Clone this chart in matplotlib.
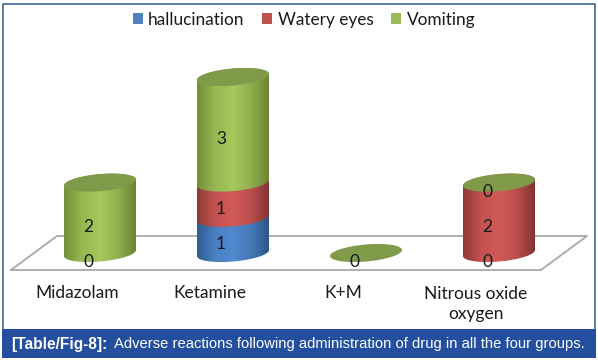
import numpy as np
import matplotlib
matplotlib.use("Agg")
import matplotlib.pyplot as plt
from matplotlib.patches import Polygon, Patch, Rectangle
from matplotlib.lines import Line2D
from matplotlib.colors import LinearSegmentedColormap

categories = ["Midazolam", "Ketamine", "K+M", "Nitrous oxide\noxygen"]
series_names = ["hallucination", "Watery eyes", "Vomiting"]
hallucination = [0, 1, 0, 0]
watery_eyes = [0, 1, 0, 2]
vomiting = [2, 3, 0, 0]
series_values = [hallucination, watery_eyes, vomiting]
legend_colors = ["#4f81bd", "#c0504d", "#9bbb59"]
ramps = [["#2f5c92", "#4a80c2", "#5089cf", "#4679b6", "#2c5588"],
         ["#8f3b39", "#c35250", "#d25a58", "#bb4f4d", "#823432"],
         ["#728f38", "#96b852", "#a5c95c", "#90b04e", "#6b8535"]]
top_color = "#7f9a48"
caption_bold = "[Table/Fig-8]:"
caption_rest = "Adverse reactions following administration of drug in all the four groups."

W, H = 598, 362
X0, DX = 100, 133      # pixel of first category, pixels per category
Y0, DY = 253, 35.2     # pixel of value zero, pixels per unit

plt.rcParams["font.family"] = ["Lato", "DejaVu Sans"]
fig = plt.figure(figsize=(W / 100, H / 100), dpi=100, facecolor="white")
ax = fig.add_axes([0, 0, 1, 1])
ax.axis("off")
ax.set_zorder(2)
xlim = (-X0 / DX, (W - X0) / DX)
ylim = ((Y0 - H) / DY, Y0 / DY)


def fx(p):
    return p / W


def fy(p):
    return 1 - p / H


# frame
fig.add_artist(Line2D([fx(3.5), fx(3.5), fx(594.5), fx(594.5)],
                      [fy(330), fy(3.5), fy(3.5), fy(330)], color="#2b5b86", lw=1.1))
# floor
fig.add_artist(Line2D([fx(11), fx(57), fx(587), fx(541), fx(11)],
                      [fy(270), fy(236), fy(236), fy(270), fy(270)],
                      color="#a8a8a8", lw=1.3, zorder=0.5))
# caption band
fig.add_artist(Rectangle((fx(2), fy(358)), fx(594), 29 / H, transform=fig.transFigure,
                         facecolor="#244f9e", edgecolor="none"))
fig.text(fx(11), fy(344), caption_bold, color="white", fontsize=11.2, weight="bold",
         family="Liberation Sans", va="center", ha="left")
fig.text(fx(114), fy(344), caption_rest, color="white", fontsize=10.6,
         family="Liberation Sans", va="center", ha="left")

half_w = 36 / DX
half_h = 8.5 / DY
shear = 3 / DY


def arc(cx, v, t):
    return np.column_stack([cx + half_w * np.cos(t),
                            v + half_h * np.sin(t) + shear * np.cos(t)])


lower = np.linspace(np.pi, 2 * np.pi, 60)
upper = np.linspace(0, np.pi, 60)
whole = np.linspace(0, 2 * np.pi, 120)

for i, cat in enumerate(categories):
    base = 0
    for k, vals in enumerate(series_values):
        v = vals[i]
        top = base + v
        if v > 0:
            poly = Polygon(np.vstack([arc(i, base, lower), arc(i, top, upper)]),
                           closed=True, facecolor="none", edgecolor="none", zorder=3 + k)
            ax.add_patch(poly)
            cmap = LinearSegmentedColormap.from_list("c", ramps[k])
            im = ax.imshow(np.linspace(0, 1, 128)[None, :], cmap=cmap, aspect="auto",
                           extent=(i - half_w, i + half_w, base - 1, top + 1),
                           zorder=3 + k, interpolation="bilinear")
            im.set_clip_path(poly)
        base = top
    ax.add_patch(Polygon(arc(i, base, whole), closed=True, facecolor=top_color,
                         edgecolor="none", zorder=7))
    base = 0
    seen = set()
    for k, vals in enumerate(series_values):
        v = vals[i]
        mid = base + v / 2
        if mid not in seen:
            seen.add(mid)
            ax.text(i - 12 / DX, mid - 9 / DY, str(v), ha="center", va="center",
                    fontsize=12.5, color="#1a1a1a", zorder=8)
        base += v
    label_y = (Y0 - 304) / DY if "\n" in cat else (Y0 - 293) / DY
    ax.text(i - 23 / DX, label_y, cat, ha="center", va="center",
            fontsize=12.5, color="#1a1a1a", linespacing=1.3, zorder=8)

ax.set_xlim(*xlim)
ax.set_ylim(*ylim)

handles = [Patch(facecolor=c, edgecolor="none") for c in legend_colors]
ax.legend(handles, series_names, ncol=3, frameon=False, fontsize=12.4,
          loc="center", bbox_to_anchor=(fx(304), fy(20)), handlelength=0.58, handleheight=0.6,
          handletextpad=0.3, columnspacing=1.05, labelcolor="#1a1a1a")

fig.savefig("out.png", dpi=100, facecolor="white")
